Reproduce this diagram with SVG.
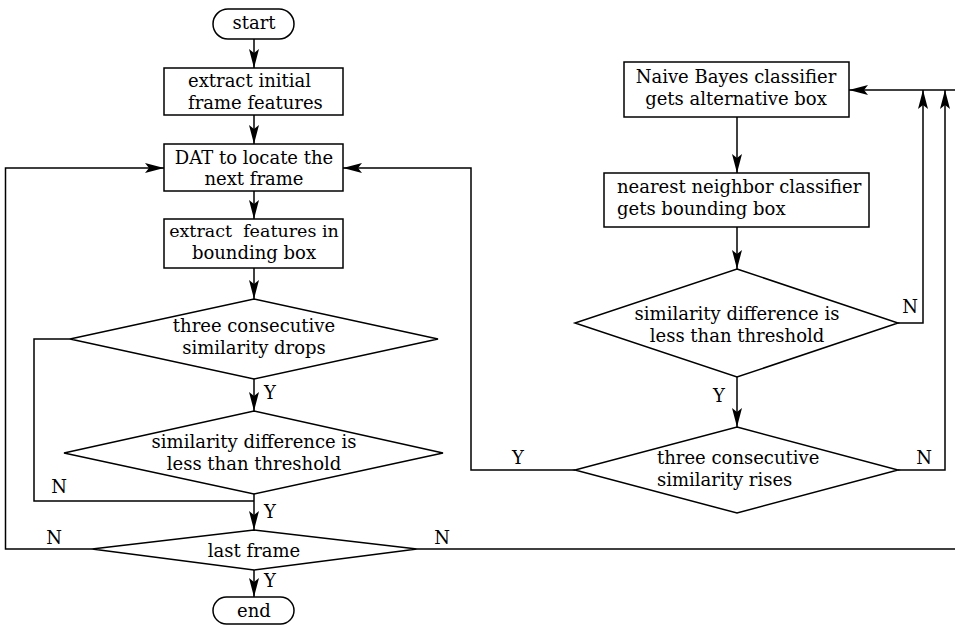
<svg xmlns="http://www.w3.org/2000/svg" width="955" height="625" viewBox="0 0 955 625">
<style>
.s{fill:#fff;stroke:#000;stroke-width:1.5}
.l{fill:none;stroke:#000;stroke-width:1.5}
.t{font-family:"DejaVu Serif","Liberation Serif",serif;font-size:18px;fill:#000;white-space:pre}
.c{text-anchor:middle}
.lab{font-family:"DejaVu Serif","Liberation Serif",serif;font-size:18px;fill:#000}
</style>
<defs>
<marker id="ah" viewBox="-19 -5 20 10" refX="0" refY="0" markerWidth="20" markerHeight="10" markerUnits="userSpaceOnUse" orient="auto">
<path d="M0,0 L-19,-5 L-15,0 L-19,5 Z" fill="#000"/>
</marker>
</defs>
<rect width="955" height="625" fill="#fff"/>
<g id="connectors">
<line class="l" x1="254" y1="39" x2="254" y2="68" marker-end="url(#ah)"/>
<line class="l" x1="254" y1="115" x2="254" y2="144" marker-end="url(#ah)"/>
<line class="l" x1="254" y1="191" x2="254" y2="219" marker-end="url(#ah)"/>
<line class="l" x1="254" y1="268" x2="254" y2="299" marker-end="url(#ah)"/>
<line class="l" x1="254" y1="379" x2="254" y2="411" marker-end="url(#ah)"/>
<line class="l" x1="254" y1="494" x2="254" y2="530" marker-end="url(#ah)"/>
<line class="l" x1="254" y1="570" x2="254" y2="597" marker-end="url(#ah)"/>
<polyline class="l" points="70,339 34,339 34,501 254,501"/>
<polyline class="l" points="92,549 5.5,549 5.5,168 164,168" marker-end="url(#ah)"/>
<line class="l" x1="417" y1="549" x2="955" y2="549"/>
<polyline class="l" points="575,470 471,470 471,168 343,168" marker-end="url(#ah)"/>
<line class="l" x1="955" y1="90" x2="849" y2="90" marker-end="url(#ah)"/>
<line class="l" x1="737" y1="117" x2="737" y2="173" marker-end="url(#ah)"/>
<line class="l" x1="737" y1="227" x2="737" y2="269" marker-end="url(#ah)"/>
<line class="l" x1="737" y1="377" x2="737" y2="427" marker-end="url(#ah)"/>
<polyline class="l" points="898,323 923,323 923,90" marker-end="url(#ah)"/>
<polyline class="l" points="898,470 945,470 945,90" marker-end="url(#ah)"/>
<text class="lab" x="264" y="399">Y</text>
<text class="lab" x="264" y="518">Y</text>
<text class="lab" x="264" y="587">Y</text>
<text class="lab" x="59" y="493" text-anchor="middle">N</text>
<text class="lab" x="54" y="544" text-anchor="middle">N</text>
<text class="lab" x="442" y="544" text-anchor="middle">N</text>
<text class="lab" x="910" y="313" text-anchor="middle">N</text>
<text class="lab" x="719" y="402" text-anchor="middle">Y</text>
<text class="lab" x="518" y="464" text-anchor="middle">Y</text>
<text class="lab" x="924" y="464" text-anchor="middle">N</text>
</g>
<g id="start">
<rect class="s" x="213" y="9" width="81" height="30" rx="15"/>
<text class="t c" x="254" y="29">start</text>
</g>
<g id="extract-initial">
<rect class="s" x="164" y="68" width="179" height="47"/>
<text class="t" x="188" y="87">extract initial</text>
<text class="t" x="188" y="109">frame features</text>
</g>
<g id="dat">
<rect class="s" x="164" y="144" width="179" height="47"/>
<text class="t c" x="254" y="164">DAT to locate the</text>
<text class="t c" x="254" y="185">next frame</text>
</g>
<g id="extract-bbox">
<rect class="s" x="164" y="219" width="179" height="49"/>
<text class="t c" x="254" y="237" style="font-size:17.5px">extract  features in</text>
<text class="t c" x="254" y="259">bounding box</text>
</g>
<g id="drops">
<polygon class="s" points="254,299 438,339 254,379 70,339"/>
<text class="t c" x="254" y="332">three consecutive</text>
<text class="t c" x="254" y="354">similarity drops</text>
</g>
<g id="diff-left">
<polygon class="s" points="254,411 443,453 254,494 64,453"/>
<text class="t c" x="254" y="448">similarity difference is</text>
<text class="t c" x="254" y="470">less than threshold</text>
</g>
<g id="last-frame">
<polygon class="s" points="254,530 417,549 254,570 92,549"/>
<text class="t c" x="254" y="557">last frame</text>
</g>
<g id="end">
<rect class="s" x="213" y="597" width="81" height="27" rx="13.5"/>
<text class="t c" x="254" y="617">end</text>
</g>
<g id="naive-bayes">
<rect class="s" x="624" y="62" width="225" height="55"/>
<text class="t c" x="736" y="83">Naive Bayes classifier</text>
<text class="t c" x="736" y="105">gets alternative box</text>
</g>
<g id="nearest-neighbor">
<rect class="s" x="604" y="173" width="265" height="54"/>
<text class="t" x="617" y="193">nearest neighbor classifier</text>
<text class="t" x="617" y="215">gets bounding box</text>
</g>
<g id="diff-right">
<polygon class="s" points="737,269 898,323 737,377 575,323"/>
<text class="t c" x="737" y="320">similarity difference is</text>
<text class="t c" x="737" y="342">less than threshold</text>
</g>
<g id="rises">
<polygon class="s" points="737,427 898,470 737,513 575,470"/>
<text class="t" x="657" y="464">three consecutive</text>
<text class="t" x="657" y="486">similarity rises</text>
</g>
</svg>
